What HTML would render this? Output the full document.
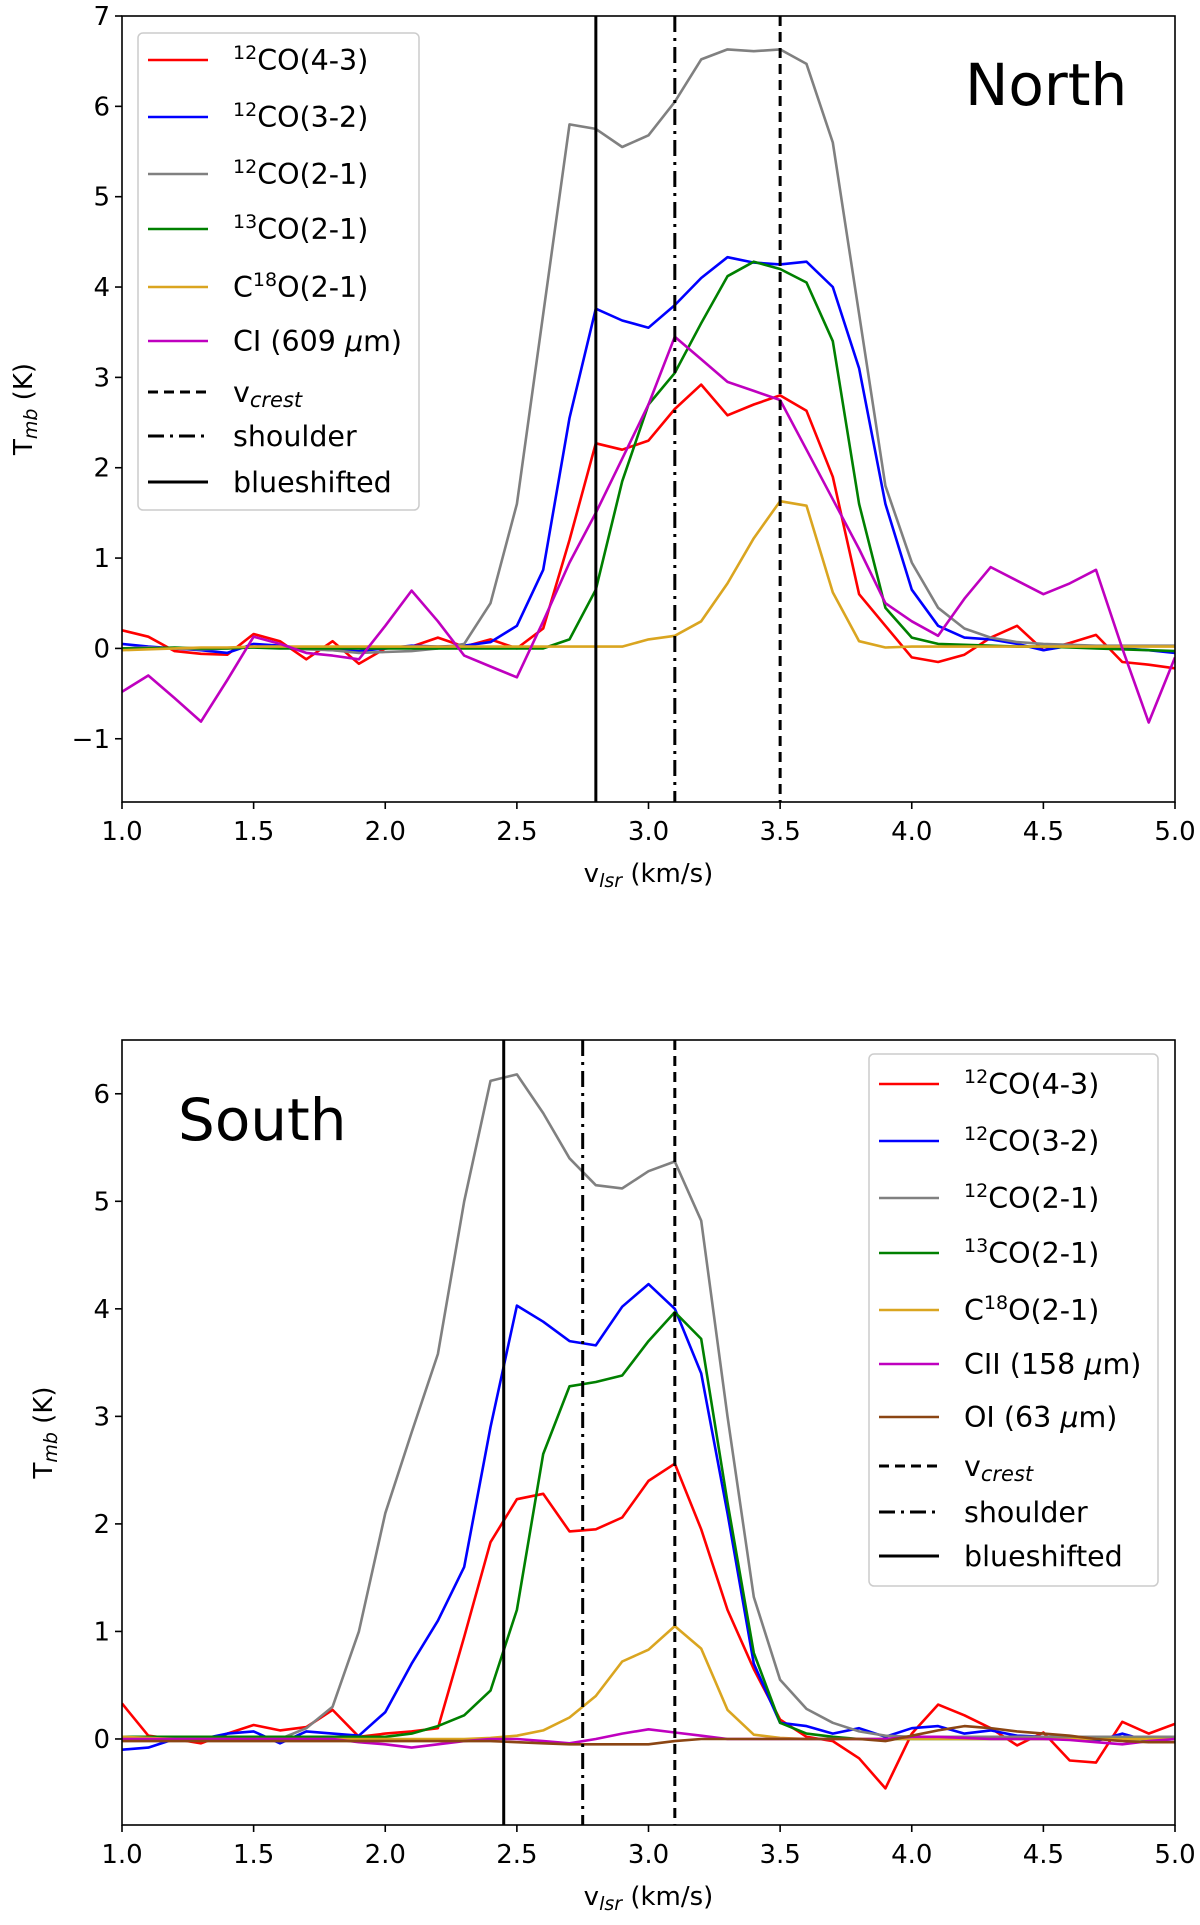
<!DOCTYPE html>
<html><head><meta charset="utf-8"><style>
body{margin:0;background:#fff;}
svg{display:block;font-family:"DejaVu Sans","Liberation Sans",sans-serif;}
</style></head><body>
<svg id="fig" width="1200" height="1925" viewBox="0 0 1200 1925" xmlns="http://www.w3.org/2000/svg"></svg>
<script>
const xs = [1.0,1.1,1.2,1.3,1.4,1.5,1.6,1.7,1.8,1.9,2.0,2.1,2.2,2.3,2.4,2.5,2.6,2.7,2.8,2.9,3.0,3.1,3.2,3.3,3.4,3.5,3.6,3.7,3.8,3.9,4.0,4.1,4.2,4.3,4.4,4.5,4.6,4.7,4.8,4.9,5.0];
const xTicks = [1.0,1.5,2.0,2.5,3.0,3.5,4.0,4.5,5.0];
const northYTicks = [-1,0,1,2,3,4,5,6,7];
const southYTicks = [0,1,2,3,4,5,6];
const northVlines = [2.8,3.1,3.5];
const southVlines = [2.45,2.75,3.1];
// North series
const nCO43 = [0.2,0.13,-0.03,-0.06,-0.07,0.16,0.08,-0.12,0.08,-0.17,0.0,0.02,0.12,0.02,0.1,0.0,0.22,1.2,2.27,2.2,2.3,2.65,2.92,2.58,2.7,2.8,2.63,1.9,0.6,0.25,-0.1,-0.15,-0.07,0.12,0.25,-0.02,0.06,0.15,-0.15,-0.18,-0.22];
const nCO32 = [0.05,0.02,0.0,-0.02,-0.05,0.05,0.03,0.0,-0.02,-0.03,0.0,0.03,0.02,0.03,0.07,0.25,0.87,2.55,3.76,3.63,3.55,3.8,4.1,4.33,4.27,4.25,4.28,4.0,3.1,1.6,0.65,0.25,0.12,0.1,0.05,-0.02,0.03,0.02,0.0,-0.02,-0.05];
const nCO21 = [0.0,0.01,0.0,-0.01,0.0,0.02,0.01,-0.01,-0.02,-0.05,-0.04,-0.03,0.0,0.05,0.5,1.6,3.7,5.8,5.75,5.55,5.68,6.05,6.52,6.63,6.61,6.63,6.47,5.6,3.7,1.8,0.95,0.45,0.22,0.12,0.07,0.05,0.04,0.03,0.03,0.03,0.03];
const n13CO = [0.0,0.0,0.01,0.0,0.0,0.01,0.0,0.0,0.0,0.0,0.0,0.0,0.0,0.0,0.0,0.0,0.0,0.1,0.65,1.85,2.7,3.05,3.6,4.12,4.28,4.2,4.05,3.4,1.6,0.45,0.12,0.05,0.04,0.03,0.02,0.02,0.01,0.0,-0.01,-0.02,-0.03];
const nC18O = [-0.02,-0.01,0.0,0.01,0.01,0.02,0.02,0.02,0.02,0.02,0.02,0.02,0.02,0.02,0.02,0.02,0.02,0.02,0.02,0.02,0.1,0.14,0.3,0.72,1.22,1.63,1.58,0.62,0.08,0.01,0.02,0.02,0.02,0.02,0.02,0.02,0.02,0.02,0.02,0.02,0.02];
const nCI = [-0.48,-0.3,-0.55,-0.81,-0.35,0.13,0.05,-0.05,-0.08,-0.12,0.25,0.64,0.3,-0.08,-0.2,-0.32,0.3,0.95,1.5,2.1,2.7,3.45,3.2,2.95,2.85,2.75,2.2,1.65,1.1,0.5,0.3,0.14,0.55,0.9,0.75,0.6,0.72,0.87,0.0,-0.82,-0.1];
// South series
const sCO43 = [0.33,0.03,0.0,-0.04,0.05,0.13,0.08,0.11,0.27,0.02,0.05,0.07,0.1,0.95,1.83,2.23,2.28,1.93,1.95,2.06,2.4,2.56,1.95,1.2,0.65,0.18,0.02,-0.02,-0.18,-0.46,0.05,0.32,0.22,0.1,-0.06,0.06,-0.2,-0.22,0.16,0.05,0.14];
const sCO32 = [-0.1,-0.08,0.0,0.0,0.05,0.07,-0.04,0.07,0.05,0.03,0.25,0.7,1.1,1.6,2.9,4.03,3.88,3.7,3.66,4.02,4.23,4.0,3.4,2.1,0.7,0.15,0.12,0.05,0.1,0.02,0.1,0.12,0.05,0.08,0.03,0.02,0.0,-0.02,0.05,-0.02,0.0];
const sCO21 = [0.0,0.02,0.01,0.0,0.02,0.01,0.0,0.1,0.3,1.0,2.1,2.85,3.58,5.0,6.12,6.18,5.82,5.4,5.15,5.12,5.28,5.37,4.82,3.0,1.32,0.55,0.28,0.15,0.07,0.03,0.02,0.02,0.02,0.02,0.02,0.02,0.02,0.02,0.02,0.02,0.02];
const s13CO = [0.02,0.02,0.02,0.02,0.02,0.02,0.02,0.02,0.02,0.02,0.02,0.05,0.12,0.22,0.45,1.2,2.65,3.28,3.32,3.38,3.7,3.97,3.72,2.2,0.8,0.15,0.05,0.02,0.0,0.0,0.0,0.0,0.0,0.0,0.0,0.0,0.0,0.0,0.0,0.0,0.0];
const sC18O = [0.02,0.01,0.0,0.0,0.0,0.0,0.0,0.0,0.0,0.0,0.0,0.0,0.0,0.0,0.01,0.03,0.08,0.2,0.4,0.72,0.83,1.05,0.84,0.27,0.04,0.01,0.0,0.0,0.0,0.0,0.0,0.0,0.0,0.0,0.0,0.0,0.0,0.0,0.0,0.0,0.0];
const sCII = [0.0,0.0,0.0,0.0,0.0,0.0,0.0,0.0,0.0,-0.03,-0.05,-0.08,-0.05,-0.02,0.0,0.0,-0.02,-0.04,0.0,0.05,0.09,0.06,0.03,0.0,0.0,0.0,0.0,0.0,0.0,0.0,0.02,0.02,0.01,0.0,0.0,0.0,-0.01,-0.03,-0.05,-0.02,0.0];
const sOI = [-0.02,-0.02,-0.02,-0.02,-0.02,-0.02,-0.02,-0.02,-0.02,-0.02,-0.02,-0.02,-0.02,-0.02,-0.02,-0.03,-0.04,-0.05,-0.05,-0.05,-0.05,-0.02,0.0,0.0,0.0,0.0,0.0,0.0,0.0,-0.02,0.03,0.08,0.12,0.1,0.07,0.05,0.03,0.0,-0.02,-0.03,-0.03];

const NS='http://www.w3.org/2000/svg';
const svg=document.getElementById('fig');
function mk(tag,attrs,parent){const e=document.createElementNS(NS,tag);for(const k in attrs)e.setAttribute(k,attrs[k]);(parent||svg).appendChild(e);return e;}
const dashes={solid:'',dashdot:'16,6,3,6',dashed:'10,6'};

function chart(cfg){
  const g=mk('g',{});
  
  
  const X=v=>cfg.L+(v-1.0)/(5.0-1.0)*(cfg.R-cfg.L);
  const Y=v=>cfg.T+(cfg.ymax-v)/(cfg.ymax-cfg.ymin)*(cfg.B-cfg.T);
  const clip='clip-'+cfg.name;
  const cp=mk('clipPath',{id:clip},g);mk('rect',{x:cfg.L,y:cfg.T,width:cfg.R-cfg.L,height:cfg.B-cfg.T},cp);
  const pg=mk('g',{'clip-path':'url(#'+clip+')'},g);
  cfg.series.forEach(s=>{
    const p=mk('polyline',{points:s.data.map((v,i)=>X(xs[i]).toFixed(1)+','+Y(v).toFixed(1)).join(' '),fill:'none',stroke:s.color,'stroke-width':2.6,'stroke-linejoin':'round'},pg);
    
    
  });
  const styles=['solid','dashdot','dashed'];
  cfg.vlines.forEach((v,i)=>{
    const l=mk('line',{x1:X(v),x2:X(v),y1:cfg.T,y2:cfg.B,stroke:'#000','stroke-width':3,'stroke-dasharray':dashes[styles[i]]},pg);
    
    
  });
  const fr=mk('rect',{x:cfg.L,y:cfg.T,width:cfg.R-cfg.L,height:cfg.B-cfg.T,fill:'none',stroke:'#000','stroke-width':1.6},g);
  
  
  xTicks.forEach(t=>{
    mk('line',{x1:X(t),x2:X(t),y1:cfg.B,y2:cfg.B+7,stroke:'#000','stroke-width':1.6},g);
    const tx=mk('text',{x:X(t),y:cfg.B+38,'font-size':26,'text-anchor':'middle'},g);tx.textContent=t.toFixed(1);
    
    
  });
  cfg.yticks.forEach(t=>{
    mk('line',{x1:cfg.L-7,x2:cfg.L,y1:Y(t),y2:Y(t),stroke:'#000','stroke-width':1.6},g);
    const tx=mk('text',{x:cfg.L-12,y:Y(t)+9,'font-size':26,'text-anchor':'end'},g);tx.textContent=t<0?'\u2212'+(-t):String(t);
    
    
  });
  const xl=mk('text',{x:(cfg.L+cfg.R)/2,y:cfg.B+80,'font-size':26,'text-anchor':'middle'},g);
  xl.innerHTML='v<tspan font-style="italic" font-size="19" dy="5">lsr</tspan><tspan dy="-5"> (km/s)</tspan>';
  
  
  const yc=(cfg.T+cfg.B)/2, yx=cfg.ylx;
  const yl=mk('text',{x:yx,y:yc,'font-size':26,'text-anchor':'middle',transform:`rotate(-90 ${yx} ${yc})`},g);
  yl.innerHTML='T<tspan font-style="italic" font-size="19" dy="5">mb</tspan><tspan dy="-5"> (K)</tspan>';
  
  
  const ti=mk('text',{x:cfg.titleX,y:cfg.titleY,'font-size':58},g);ti.textContent=cfg.title;
  
  
  const lg=mk('g',{},g);
  
  
  mk('rect',{x:cfg.lgx,y:cfg.lgy,width:cfg.lgw,height:cfg.lgh,rx:5,fill:'#fff','fill-opacity':0.85,stroke:'#ccc','stroke-width':1.5},lg);
  cfg.legend.forEach((e,i)=>{
    const y=cfg.lgys[i];
    const eg=mk('g',{},lg);
    
    
    mk('line',{x1:cfg.lgx+10,x2:cfg.lgx+70,y1:y,y2:y,stroke:e.color,'stroke-width':e.color=='#000'?3:2.6,'stroke-dasharray':dashes[e.dash||'solid']},eg);
    const t=mk('text',{x:cfg.lgx+95,y:y+10,'font-size':28.5},eg);t.innerHTML=e.label;
  });
}
const sup=s=>`<tspan font-size="19" dy="-11">${s}</tspan><tspan dy="11">`;
const baseLegend=[
 {color:'#ff0000',label:sup('12')+'CO(4-3)</tspan>'},
 {color:'#0000ff',label:sup('12')+'CO(3-2)</tspan>'},
 {color:'#808080',label:sup('12')+'CO(2-1)</tspan>'},
 {color:'#008000',label:sup('13')+'CO(2-1)</tspan>'},
 {color:'#daa520',label:'C'+sup('18')+'O(2-1)</tspan>'}];
const lineLegend=[
 {color:'#000',dash:'dashed',label:'v<tspan font-style="italic" font-size="21" dy="5">crest</tspan>'},
 {color:'#000',dash:'dashdot',label:'shoulder'},
 {color:'#000',dash:'solid',label:'blueshifted'}];

chart({name:'north-panel',title:'North',titleX:965,titleY:105,L:122,R:1175,T:16,B:802,ymin:-1.7,ymax:7,yticks:northYTicks,ylx:32,
 vlines:northVlines,
 series:[{id:'12co43',color:'#ff0000',data:nCO43},{id:'12co32',color:'#0000ff',data:nCO32},{id:'12co21',color:'#808080',data:nCO21},{id:'13co21',color:'#008000',data:n13CO},{id:'c18o21',color:'#daa520',data:nC18O},{id:'ci609',color:'#bf00bf',data:nCI}],
 legend:baseLegend.concat([{color:'#bf00bf',label:'CI (609 <tspan font-style="italic">μ</tspan>m)'}]).concat(lineLegend),
 lgx:138,lgy:33,lgw:281,lgh:477,lgys:[60,117,174,229,287,341,392,436,482]});

chart({name:'south-panel',title:'South',titleX:178,titleY:1140,L:122,R:1175,T:1040,B:1825,ymin:-0.8,ymax:6.5,yticks:southYTicks,ylx:52,
 vlines:southVlines,
 series:[{id:'12co43',color:'#ff0000',data:sCO43},{id:'12co32',color:'#0000ff',data:sCO32},{id:'12co21',color:'#808080',data:sCO21},{id:'13co21',color:'#008000',data:s13CO},{id:'c18o21',color:'#daa520',data:sC18O},{id:'cii158',color:'#bf00bf',data:sCII},{id:'oi63',color:'#8b4513',data:sOI}],
 legend:baseLegend.concat([{color:'#bf00bf',label:'CII (158 <tspan font-style="italic">μ</tspan>m)'},{color:'#8b4513',label:'OI (63 <tspan font-style="italic">μ</tspan>m)'}]).concat(lineLegend),
 lgx:869,lgy:1054,lgw:289,lgh:532,lgys:[1084,1141,1198,1253,1310,1364,1417,1466,1512,1556]});
</script>
</body></html>
